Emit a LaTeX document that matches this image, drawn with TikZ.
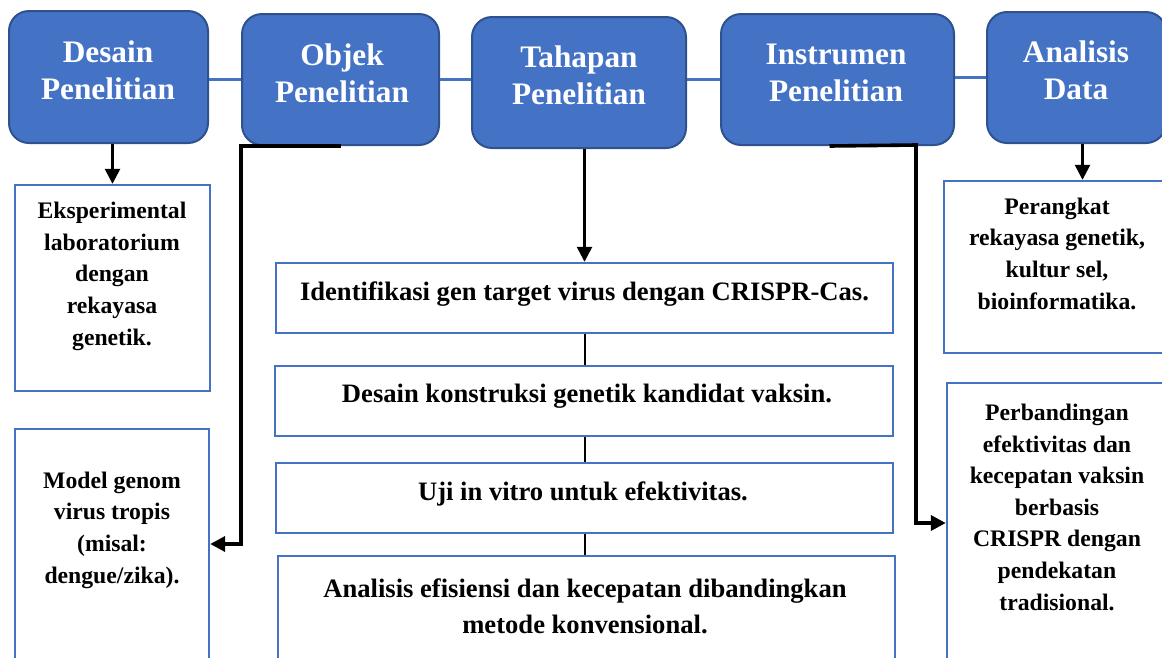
\documentclass[tikz,border=0pt]{standalone}
\usepackage{fontspec}
\setmainfont{Liberation Serif}
\usetikzlibrary{arrows.meta}
\definecolor{boxblue}{HTML}{4472C4}
\definecolor{edgeblue}{HTML}{2F528F}
\tikzset{
  topbox/.style={draw=edgeblue, line width=2pt, fill=boxblue, rounded corners=20pt, inner sep=0pt},
  toptxt/.style={text=white, font={\bfseries\fontsize{31.3}{37}\selectfont}, align=center, anchor=base, inner sep=0pt},
  plainbox/.style={draw=boxblue, line width=2.4pt, fill=white, inner sep=0pt},
  midtxt/.style={font={\bfseries\fontsize{26.6}{36}\selectfont}, align=center, anchor=base, inner sep=0pt},
  sidetxt/.style={font={\bfseries\fontsize{23.7}{31.6}\selectfont}, align=center, anchor=base, inner sep=0pt},
  link/.style={boxblue, line width=3pt},
  flow/.style={-{Triangle[length=15pt,width=15pt]}, line width=2.6pt},
  elbow/.style={-{Triangle[length=15pt,width=15pt]}, line width=3.6pt},
  stepline/.style={line width=2pt}
}
\begin{document}
\begin{tikzpicture}[x=1pt,y=-1pt,line join=miter]
  \useasboundingbox (0,0) rectangle (1162,657);
  \node[topbox, minimum width=199pt, minimum height=132pt] (desain) at (108.5,77) {};
  \node[topbox, minimum width=197pt, minimum height=131pt] (objek) at (340.5,79.5) {};
  \node[topbox, minimum width=214pt, minimum height=131pt] (tahapan) at (579,82.5) {};
  \node[topbox, minimum width=233pt, minimum height=131pt] (instrumen) at (837.5,79.5) {};
  \node[topbox, minimum width=179pt, minimum height=131pt] (analisis) at (1076.5,77.5) {};
  \node[toptxt] (desainTxt) at (108,99) {Desain\\Penelitian};
  \node[toptxt] (objekTxt) at (342,102) {Objek\\Penelitian};
  \node[toptxt] (tahapanTxt) at (579,104) {Tahapan\\Penelitian};
  \node[toptxt] (instrumenTxt) at (836,101) {Instrumen\\Penelitian};
  \node[toptxt] (analisisTxt) at (1076,99) {Analisis\\Data};

  \node[plainbox, minimum width=195pt, minimum height=206pt] (eksp) at (112.5,288) {};
  \node[plainbox, minimum width=194pt, minimum height=230pt] (model) at (112,544) {};
  \node[plainbox, minimum width=226pt, minimum height=172pt] (perangkat) at (1057,267) {};
  \node[plainbox, minimum width=223pt, minimum height=280pt] (perband) at (1058.5,523) {};
  \node[sidetxt] (ekspTxt) at (112,345) {Eksperimental\\laboratorium\\dengan\\rekayasa\\genetik.};
  \node[sidetxt] (modelTxt) at (112,583) {Model genom\\virus tropis\\(misal:\\dengue/zika).};
  \node[sidetxt] (perangkatTxt) at (1057,309) {Perangkat\\rekayasa genetik,\\kultur sel,\\bioinformatika.};
  \node[sidetxt] (perbandTxt) at (1057,610) {Perbandingan\\efektivitas dan\\kecepatan vaksin\\berbasis\\CRISPR dengan\\pendekatan\\tradisional.};

  \node[plainbox, minimum width=617pt, minimum height=70pt] (ident) at (584.5,298) {};
  \node[plainbox, minimum width=618pt, minimum height=70pt] (konstruksi) at (584,401) {};
  \node[plainbox, minimum width=617pt, minimum height=70pt] (uji) at (584.5,498) {};
  \node[plainbox, minimum width=617pt, minimum height=134pt] (efisiensi) at (586.5,623) {};
  \node[midtxt] (identTxt) at (584.5,300) {Identifikasi gen target virus dengan CRISPR-Cas.};
  \node[midtxt] (konstruksiTxt) at (587,402) {Desain konstruksi genetik kandidat vaksin.};
  \node[midtxt] (ujiTxt) at (583,500) {Uji in vitro untuk efektivitas.};
  \node[midtxt] (efisiensiTxt) at (585,633) {Analisis efisiensi dan kecepatan dibandingkan\\metode konvensional.};

  \coordinate (instrBend) at (916,145);

  \draw[link] (desain.east |- objek.west) -- (objek.west);
  \draw[link] (objek.east) -- (objek.east -| tahapan.west);
  \draw[link] (tahapan.east |- instrumen.west) -- (instrumen.west);
  \draw[link] (instrumen.east |- analisis.west) -- (analisis.west);

  \draw[flow] (eksp.north |- desain.south) -- (eksp.north);
  \draw[flow] (ident.north |- tahapan.south) -- (ident.north);
  \draw[flow] ([xshift=6pt]analisis.south) -- ([xshift=6pt]analisis.south |- perangkat.north);
  \draw[stepline] (ident.south) -- (ident.south |- konstruksi.north);
  \draw[stepline] (ident.south |- konstruksi.south) -- (ident.south |- uji.north);
  \draw[stepline] (ident.south |- uji.south) -- (ident.south |- efisiensi.north);

  \draw[elbow] (objek.south) -- (objek.south west) -- (objek.south west |- model.east) -- (model.east);
  \draw[elbow] ([xshift=-8pt]instrumen.south) -- (instrBend) -- (instrBend |- perband.west) -- (perband.west);
\end{tikzpicture}
\end{document}
